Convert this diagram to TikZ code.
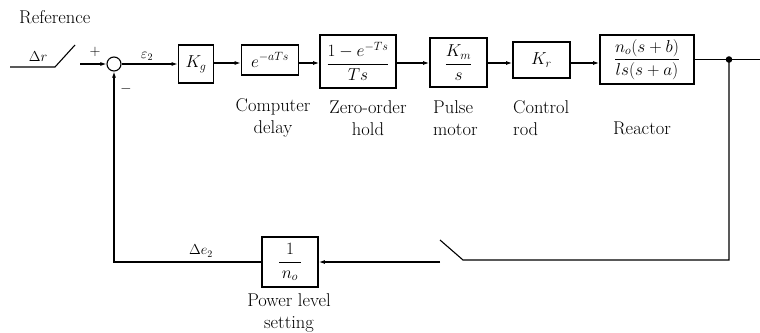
\documentclass[tikz,border=0pt]{standalone}
\usepackage{fontspec}
\usepackage{amsmath}
\usetikzlibrary{arrows.meta,calc}
\tikzset{
  blk/.style={draw, line width=1.8pt, inner sep=0pt, anchor=center, font=\fontsize{17}{20}\selectfont},
  sig/.style={line width=1.1pt},
  arr/.style={sig, -{Latex[length=6pt,width=4pt]}},
  lbl/.style={font=\fontsize{18.5}{22}\selectfont, inner sep=0pt},
  sml/.style={font=\fontsize{14}{16}\selectfont, inner sep=0pt},
}
\begin{document}
\begin{tikzpicture}[x=1pt,y=-1pt]
\useasboundingbox (0,0) rectangle (760,332);
\coordinate (main) at (0,63);
% blocks
\node[blk, minimum width=35pt, minimum height=38pt] (kg) at (196,64) {$K_g$};
\node[blk, minimum width=57pt, minimum height=30pt] (delay) at (270,60) {$e^{-aTs}$};
\node[blk, minimum width=76pt, minimum height=53pt] (zoh) at (358,61.5) {$\dfrac{1-e^{-Ts}}{Ts}$};
\node[blk, minimum width=57pt, minimum height=49pt] (pm) at (458.5,62.5) {$\dfrac{K_m}{s}$};
\node[blk, minimum width=57pt, minimum height=36pt] (kr) at (541.5,60) {$K_r$};
\node[blk, minimum width=94pt, minimum height=49pt] (react) at (647,59.5) {$\dfrac{n_o(s+b)}{ls(s+a)}$};
\node[blk, minimum width=56pt, minimum height=50pt] (pls) at (290,262) {$\dfrac{\,1\,}{\,n_o\,}$};
\node[draw, circle, minimum size=14pt, inner sep=0pt, line width=1.1pt] (sum) at (114,64) {};
% coordinates
\coordinate (inL) at (10,67);
\coordinate (inR) at (55,67);
\coordinate (swT) at (75,45);
\coordinate (inS) at (80,64);
\coordinate (dot) at (729,59.5);
\coordinate (out) at (760,59.5);
\coordinate (fbR) at (729,260);
\coordinate (swB) at (463,260);
\coordinate (swT2) at (440,240);
\coordinate (fbS) at (440,262);
% connectors
\draw[sig] (inL) -- (inR) -- (swT);
\draw[arr] (inS) -- (sum.west);
\draw[arr] (sum.east) -- (kg.west);
\draw[arr] (kg.east |- main) -- (delay.west |- main);
\draw[arr] (delay.east |- main) -- (zoh.west |- main);
\draw[arr] (zoh.east |- main) -- (pm.west |- main);
\draw[arr] (pm.east |- main) -- (kr.west |- main);
\draw[arr] (kr.east |- main) -- (react.west |- main);
\draw[sig] (react.east) -- (out);
\fill (dot) circle (3.3pt);
\draw[sig] (dot) -- (fbR) -- (swB) -- (swT2);
\draw[arr] (fbS) -- (pls.east);
\draw[arr] (pls.west) -- (pls.west -| sum.south) -- (sum.south);
% labels
\node[lbl, anchor=west] (ref) at (19,17) {Reference};
\node[sml] (dr) at (38,57) {$\Delta r$};
\node[sml] (plus) at (95,52) {$+$};
\node[sml] (minus) at (126,89) {$-$};
\node[sml] (eps) at (147,56) {$\varepsilon_2$};
\node[sml] (de) at (201,251) {$\Delta e_2$};
\node[lbl, align=center] (lcd) at (273,118) {Computer\\delay};
\node[lbl, align=center] (lzoh) at (368,118) {Zero-order\\hold};
\node[lbl, align=left, anchor=west] (lpm) at (433,118) {Pulse\\motor};
\node[lbl, align=left, anchor=west] (lkr) at (513,118) {Control\\rod};
\node[lbl] (lre) at (642,128) {Reactor};
\node[lbl, align=center] (lpl) at (289,313) {Power level\\setting};
\end{tikzpicture}
\end{document}
